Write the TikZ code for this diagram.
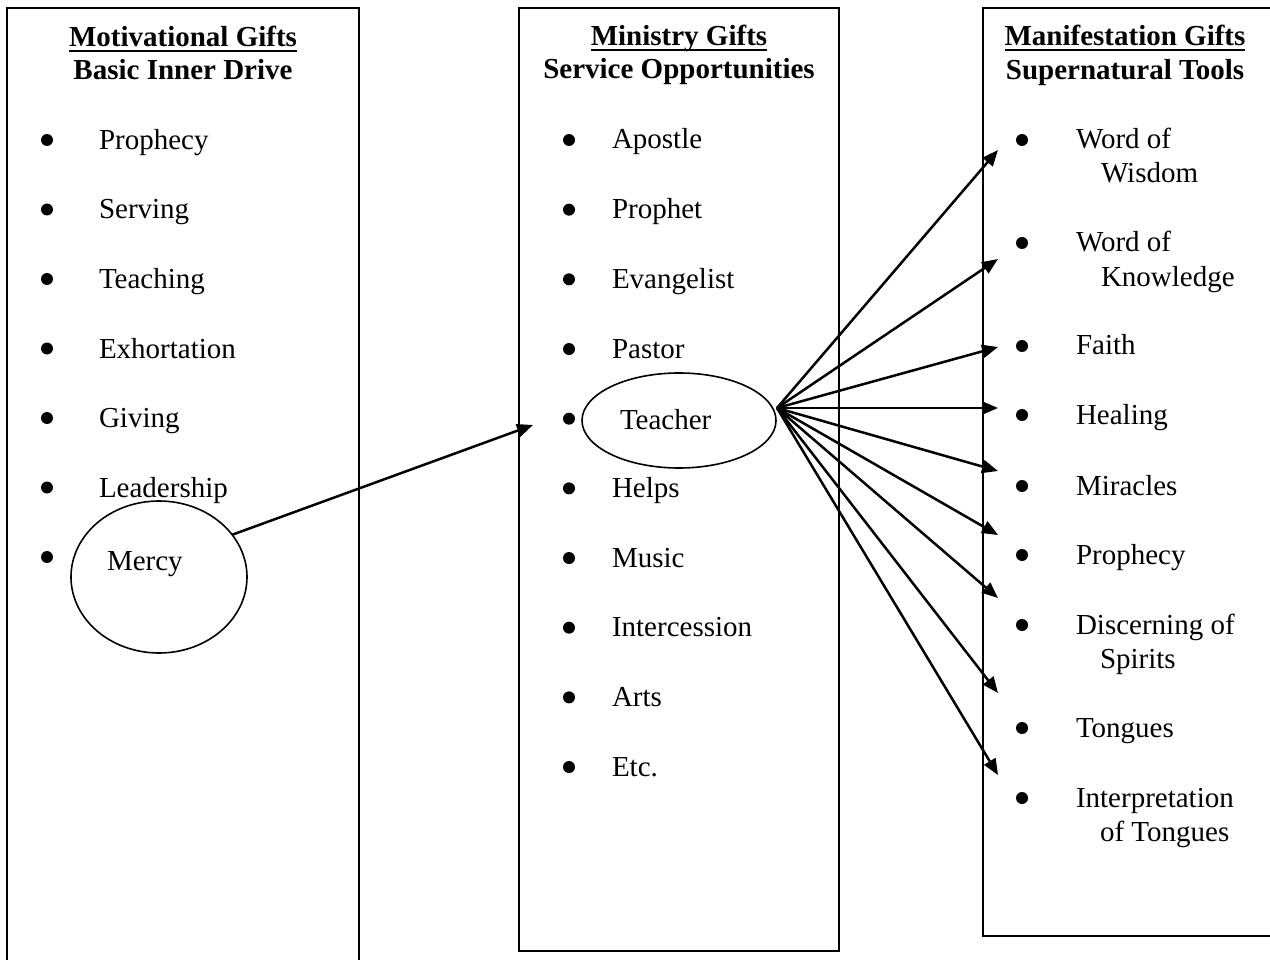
\documentclass[tikz,border=0pt]{standalone}
\usepackage{fontspec}
\setmainfont{Liberation Serif}
\usetikzlibrary{shapes.geometric,arrows.meta}
\begin{document}
\begin{tikzpicture}[x=1pt,y=-1pt,
  every node/.style={inner sep=0pt,outer sep=0pt,font=\fontsize{29}{34}\selectfont},
  boxline/.style={line width=2.4pt},
  hdr/.style={anchor=base,font=\fontsize{29}{34}\selectfont\bfseries},
  item/.style={anchor=base west},
  oval/.style={ellipse,draw,line width=1.6pt},
  arr/.style={line width=2.5pt,-{Triangle[length=16pt,width=13pt]}},
  bul/.style={fill=black}]
\useasboundingbox (0,0) rectangle (1270,960);
\clip (0,0) rectangle (1270,960);

% boxes
\draw[boxline] (7,980) -- (7,8) -- (359,8) -- (359,980);
\draw[boxline] (519,8) rectangle (839,951);
\draw[boxline] (1290,936) -- (983,936) -- (983,8) -- (1290,8);

% headers
\node[hdr] (h1a) at (183,47) {Motivational Gifts};
\node[hdr] (h1b) at (183,80) {Basic Inner Drive};
\node[hdr] (h2a) at (679,46) {Ministry Gifts};
\node[hdr] (h2b) at (679,79) {Service Opportunities};
\node[hdr] (h3a) at (1125,46) {Manifestation Gifts};
\node[hdr] (h3b) at (1125,80) {Supernatural Tools};
\foreach \h in {h1a,h2a,h3a}
  \draw[line width=2.4pt] ([yshift=-4pt]\h.base west) -- ([yshift=-4pt]\h.base east);

% left column
\foreach \t [count=\i] in {Prophecy,Serving,Teaching,Exhortation,Giving,Leadership}{
  \fill[bul] (47,{140+69.5*(\i-1)}) circle[radius=6pt];
  \node[item] (l\i) at (99,{149.5+69.5*(\i-1)}) {\t};
}
\fill[bul] (47,557) circle[radius=6pt];
\node[oval,minimum width=176pt,minimum height=152pt] (mercyE) at (159,577) {};
\node[item] (l7) at (107,570) {Mercy};

% middle column
\foreach \t [count=\i] in {Apostle,Prophet,Evangelist,Pastor,,Helps,Music,Intercession,Arts,Etc.}{
  \fill[bul] (569,{140+69.67*(\i-1)}) circle[radius=6pt];
  \node[item] (m\i) at (612,{149+69.67*(\i-1)}) {\t};
}
\node[oval,minimum width=194pt,minimum height=95pt] (teacherE) at (679,420.5) {};
\node[item] (m5t) at (620,429) {Teacher};

% right column
\foreach \b [count=\i] in {140,243,346,415,486,555,625,728,798}
  \fill[bul] (1022,\b) circle[radius=6pt];
\node[item] (r1) at (1076,148.5) {Word of};
\node[item] (r1b) at (1101,183) {Wisdom};
\node[item] (r2) at (1076,252) {Word of};
\node[item] (r2b) at (1101,286.5) {Knowledge};
\node[item] (r3) at (1076,355) {Faith};
\node[item] (r4) at (1076,424) {Healing};
\node[item] (r5) at (1076,495) {Miracles};
\node[item] (r6) at (1076,564) {Prophecy};
\node[item] (r7) at (1076,634) {Discerning of};
\node[item] (r7b) at (1100,668) {Spirits};
\node[item] (r8) at (1076,737) {Tongues};
\node[item] (r9) at (1076,807) {Interpretation};
\node[item] (r9b) at (1100,841) {of Tongues};

% connectors
\coordinate (mt) at (533,425);
\draw[arr] (mercyE.30) -- (mt);
\coordinate (hub) at (777,408);
\foreach \y [count=\i] in {150,259,347,408,471,535,598,693,775}{
  \coordinate (t\i) at (998,\y);
  \draw[arr] (hub) -- (t\i);
}
\end{tikzpicture}
\end{document}
